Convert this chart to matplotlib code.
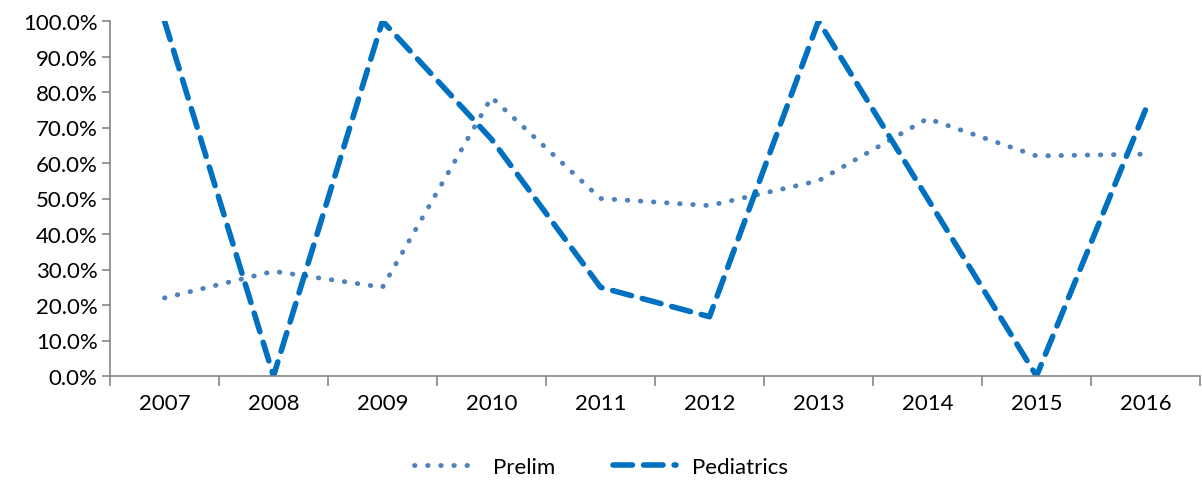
import numpy as np
import matplotlib.pyplot as plt
from matplotlib.ticker import PercentFormatter

years = ["2007", "2008", "2009", "2010", "2011", "2012", "2013", "2014", "2015", "2016"]
prelim = [22.0, 29.5, 25.0, 78.5, 50.0, 48.0, 55.0, 72.5, 62.0, 62.5]
pediatrics = [100.0, 0.0, 100.0, 66.7, 25.0, 16.7, 100.0, 50.0, 0.0, 75.0]

plt.rcParams['font.family'] = ['Lato', 'DejaVu Sans']

fig = plt.figure(figsize=(12.02, 4.81), dpi=100)
ax = fig.add_axes([110 / 1202, 1 - 377 / 481, 1090 / 1202, 355 / 481])

x = np.arange(len(years))
ax.plot(x, prelim, color="#4F81BD", lw=3.5, linestyle=(0, (0.1, 2.6)),
        dash_capstyle="round", label="Prelim")
ax.plot(x, pediatrics, color="#0070C0", lw=4, linestyle=(0, (3.5, 2)),
        dash_capstyle="round", label="Pediatrics")

ax.set_xlim(-0.5, len(years) - 0.5)
ax.set_ylim(0, 100)
ax.set_yticks(np.arange(0, 101, 10))
ax.yaxis.set_major_formatter(PercentFormatter(decimals=1))
ax.set_xticks(x)
ax.set_xticklabels(years)
ax.set_xticks(np.arange(-0.5, len(years)), minor=True)
ax.tick_params(axis="x", which="major", length=0, pad=12, labelsize=16)
ax.tick_params(axis="x", which="minor", length=7, color="#868686", width=1.2)
ax.tick_params(axis="y", length=6, color="#868686", width=1.2, labelsize=16, pad=3)

for s in ["top", "right"]:
    ax.spines[s].set_visible(False)
for s in ["left", "bottom"]:
    ax.spines[s].set_color("#868686")
    ax.spines[s].set_linewidth(1.2)

fig.legend(loc="lower center", bbox_to_anchor=(0.5, -0.035), ncol=2, frameon=False,
           fontsize=16, handlelength=2.85, handletextpad=0.7, columnspacing=2.6)

fig.savefig("out.png", dpi=100)
